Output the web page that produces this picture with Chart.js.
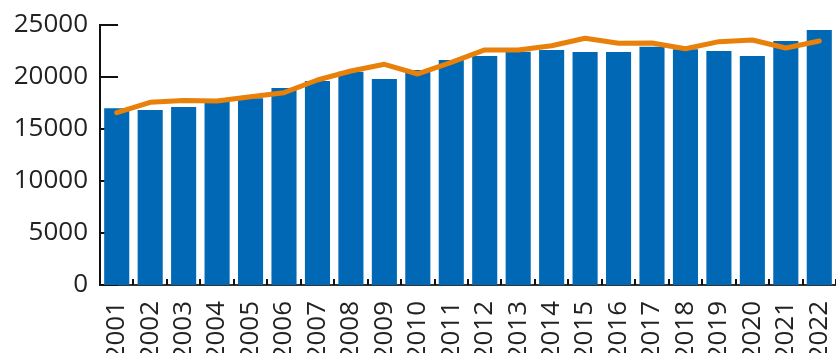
<!DOCTYPE html>
<html>
<head>
<meta charset="utf-8">
<script src="https://cdn.jsdelivr.net/npm/chart.js@4/dist/chart.umd.min.js"></script>
<style>
  html, body { margin: 0; padding: 0; background: #fff; }
  #wrap { width: 836px; height: 353px; }
</style>
</head>
<body>
<div id="wrap"><canvas id="chart"></canvas></div>
<script>
// 年
const years = ['2001','2002','2003','2004','2005','2006','2007','2008','2009','2010','2011',
               '2012','2013','2014','2015','2016','2017','2018','2019','2020','2021','2022'];
// 棒グラフの値
const barValues = [17000, 16830, 17120, 17620, 17950, 18940, 19620, 20510, 19810, 20670, 21640,
                   22020, 22430, 22600, 22400, 22400, 22920, 22660, 22500, 22020, 23460, 24520];
// 折れ線の値
const lineValues = [16570, 17570, 17750, 17690, 18110, 18490, 19710, 20580, 21220, 20290, 21410,
                    22600, 22600, 23010, 23720, 23240, 23270, 22720, 23400, 23560, 22790, 23460];
const yTicks = [0, 5000, 10000, 15000, 20000, 25000];

const textColor = '#222';
const fontFamily = '"Open Sans", "Noto Sans", sans-serif';

// 内向きの目盛り線を描く
const innerTicks = {
    id: 'innerTicks',
    beforeDatasetsDraw(chart) {
        const { ctx, chartArea, scales } = chart;
        ctx.save();
        ctx.strokeStyle = '#111';
        ctx.lineWidth = 2;
        ctx.beginPath();
        scales.y.ticks.forEach(t => {
            const y = Math.round(scales.y.getPixelForValue(t.value));
            ctx.moveTo(chartArea.left, y);
            ctx.lineTo(chartArea.left + 18, y);
        });
        const half = (scales.x.getPixelForTick(1) - scales.x.getPixelForTick(0)) / 2;
        for (let i = 0; i < years.length; i++) {
            const x = Math.round(scales.x.getPixelForTick(i) + half);
            ctx.moveTo(x, chartArea.bottom);
            ctx.lineTo(x, chartArea.bottom - 6);
        }
        ctx.stroke();
        ctx.restore();
    }
};

const ctx = document.getElementById('chart').getContext('2d');
const chart = new Chart(ctx, {
    type: 'bar',
    data: {
        labels: years,
        datasets: [{
            type: 'line',
            data: lineValues,
            borderColor: '#e8800a',
            borderWidth: 5,
            borderCapStyle: 'round',
            borderJoinStyle: 'round',
            pointRadius: 0,
            tension: 0,
            fill: false,
            order: 0
        }, {
            data: barValues,
            backgroundColor: '#0068b4',
            categoryPercentage: 1.0,
            barPercentage: 0.75,
            order: 1
        }]
    },
    options: {
        responsive: true,
        maintainAspectRatio: false,
        animation: false,
        layout: { padding: { top: 25, right: 0, left: 0, bottom: 0 } },
        plugins: {
            legend: { display: false },
            tooltip: { enabled: false }
        },
        scales: {
            x: {
                afterFit: scale => {
                    scale.height = 68;
                    scale.paddingLeft = 0;
                    scale.paddingRight = 0;
                },
                grid: { display: false, drawTicks: false },
                border: { display: true, color: '#333', width: 2 },
                ticks: {
                    color: textColor,
                    font: { family: fontFamily, size: 26 },
                    minRotation: 90,
                    maxRotation: 90,
                    padding: 16,
                    autoSkip: false
                }
            },
            y: {
                min: 0,
                max: 25000,
                afterBuildTicks: scale => { scale.ticks = yTicks.map(v => ({ value: v })); },
                afterFit: scale => {
                    scale.width = 100;
                    scale.paddingTop = 0;
                    scale.paddingBottom = 0;
                },
                grid: { display: false, drawTicks: false },
                border: { display: true, color: '#111', width: 2 },
                ticks: {
                    color: textColor,
                    font: { family: fontFamily, size: 26 },
                    padding: 12,
                    callback: v => String(v)
                }
            }
        }
    },
    plugins: [innerTicks]
});
</script>
</body>
</html>
